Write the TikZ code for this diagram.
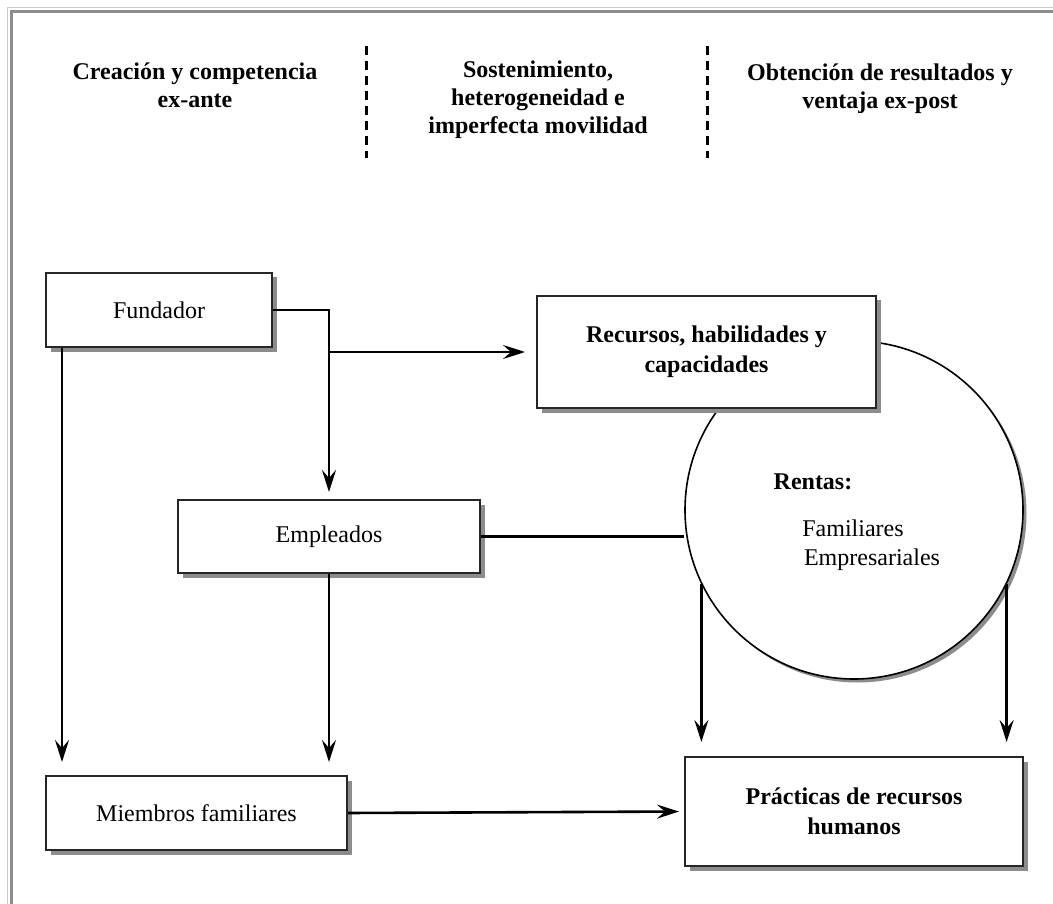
\documentclass[tikz,border=0pt]{standalone}
\usepackage{fontspec}
\setmainfont{Liberation Serif}
\usetikzlibrary{arrows.meta,shadows,calc}
\begin{document}
\begin{tikzpicture}[x=1pt,y=-1pt,
  txt/.style={font=\fontsize{24}{29}\selectfont, align=center, inner sep=0pt},
  hdr/.style={txt, font=\fontsize{24}{28}\selectfont\bfseries},
  box/.style={txt, draw=black!85, line width=2pt, fill=white, rectangle,
    drop shadow={shadow xshift=4.5pt, shadow yshift=-4.5pt, fill=black!45, opacity=1}},
  circ/.style={draw=black, line width=1.6pt, fill=white, circle, inner sep=0pt,
    minimum size=338pt,
    drop shadow={shadow xshift=3.5pt, shadow yshift=-3.5pt, fill=black!45, opacity=1}},
  arr/.style={line width=2.6pt, -{Stealth[length=22pt,width=14pt,inset=8pt]}},
  ln/.style={line width=2.6pt},
  sep/.style={line width=3pt, dash pattern=on 9pt off 6pt},
]
\useasboundingbox (0,0) rectangle (1053,904);
% frame
\draw[black!20, line width=1.5pt] (7.5,904) -- (7.5,7.5) -- (1053,7.5);
\draw[black!45, line width=3pt] (11.5,904) -- (11.5,11.5) -- (1053,11.5);

% headers
\node[hdr] (h1) at (195,85) {Creación y competencia\\ex-ante};
\node[hdr] (h2) at (538,100) {Sostenimiento,\\heterogeneidad e\\imperfecta movilidad};
\node[hdr] (h3) at (880,89) {Obtención de resultados y\\ventaja ex-post};
\coordinate (d1a) at (366,46); \coordinate (d1b) at (366,158);
\coordinate (d2a) at (707,46); \coordinate (d2b) at (707,158);
\draw[sep] (d1a) -- (d1b);
\draw[sep] (d2a) -- (d2b);

% circle first (box overlaps it)
\node[circ] (rent) at (854,510) {};
\node[txt, font=\fontsize{24}{29}\selectfont\bfseries] (rt) at (813,482) {Rentas:};
\node[txt] (rf) at (853,528) {Familiares};
\node[txt] (re) at (872,560) {Empresariales};

% boxes
\node[box, minimum width=226pt, minimum height=74pt] (fund) at (159,310) {Fundador};
\node[box, minimum width=339pt, minimum height=112pt, font=\fontsize{24}{30}\selectfont\bfseries] (rec) at (706.5,352) {Recursos, habilidades y\\capacidades};
\node[box, minimum width=302pt, minimum height=73pt] (empl) at (329,536.5) {Empleados};
\node[box, minimum width=301pt, minimum height=74pt] (miem) at (196.5,813) {Miembros familiares};
\node[box, minimum width=338pt, minimum height=109pt, font=\fontsize{24}{30}\selectfont\bfseries] (prac) at (854,811.5) {Prácticas de recursos\\humanos};

% connectors
\draw[arr, shorten >=7pt] (fund.east) -| (empl.north);
\coordinate (j) at (empl.north |- rec.west);
\draw[arr, shorten >=11pt] (j) -- (rec.west);
\draw[arr, shorten >=13pt] ([xshift=17pt]fund.south west) -- ([xshift=17pt]miem.north west);
\draw[arr, shorten >=13pt] (empl.south) -- (empl.south |- miem.north);
\draw[ln] (empl.east) -- (rent.west |- empl.east);
\draw[arr, shorten >=14pt] (rent.206.7) -- (rent.206.7 |- prac.north);
\draw[arr, shorten >=14pt] (rent.-26.7) -- (rent.-26.7 |- prac.north);
\draw[arr, shorten >=5pt] (miem.east) -- (prac.west);
\end{tikzpicture}
\end{document}
